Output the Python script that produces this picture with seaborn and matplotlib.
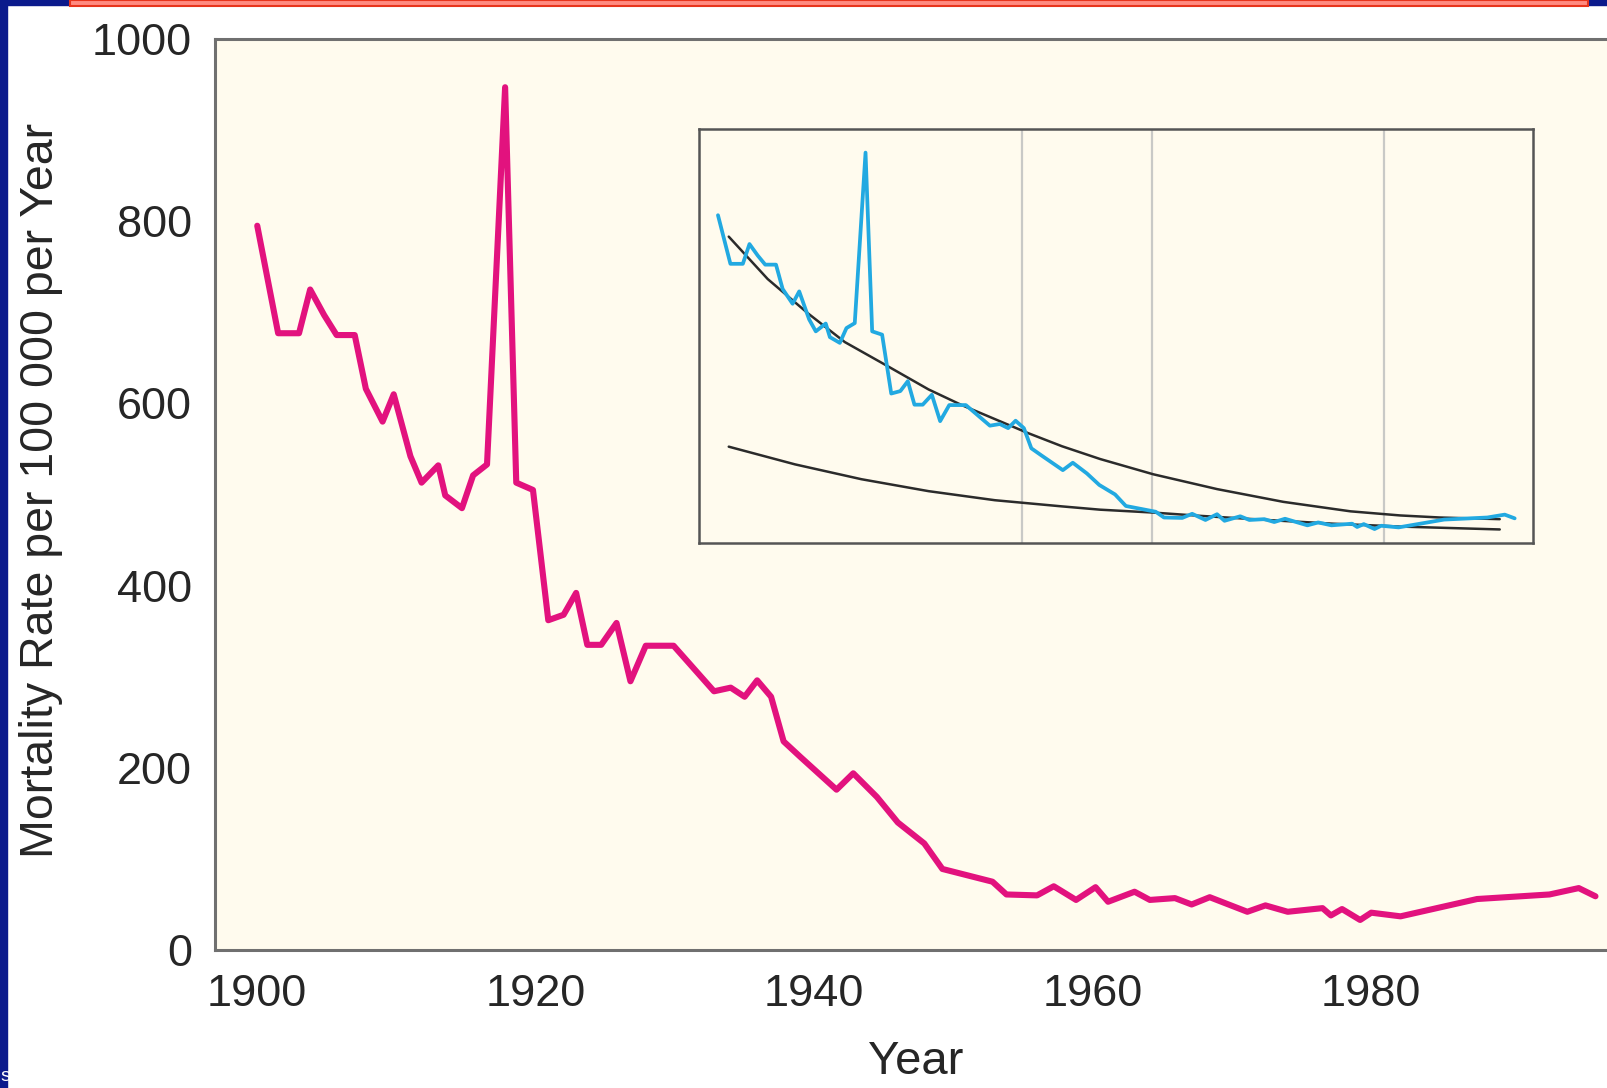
import matplotlib
matplotlib.use("Agg")
import matplotlib.pyplot as plt
import seaborn as sns
from matplotlib.patches import Rectangle

# Mortality rate per 100 000 per year
years = [1900.0, 1901.5, 1903.0, 1903.8, 1904.8, 1905.7, 1907.0, 1907.8, 1909.0, 1909.8,
         1911.0, 1911.8, 1913.0, 1913.5, 1914.7, 1915.5, 1916.5, 1917.8, 1918.6, 1919.8,
         1920.9, 1922.0, 1922.9, 1923.7, 1924.7, 1925.8, 1926.8, 1927.9, 1929.9, 1932.8,
         1934.0, 1935.0, 1935.9, 1936.9, 1937.8, 1939.0, 1941.6, 1942.8, 1944.5, 1946.0,
         1947.9, 1949.2, 1952.8, 1953.8, 1956.0, 1957.2, 1958.8, 1960.2, 1961.1, 1963.0,
         1964.1, 1965.9, 1967.1, 1968.4, 1971.1, 1972.4, 1974.0, 1976.5, 1977.1, 1977.9,
         1979.2, 1980.0, 1982.1, 1987.6, 1992.8, 1994.9, 1996.1]
rate = [795, 677, 677, 725, 697, 675, 675, 616, 580, 610,
        542, 513, 532, 499, 485, 521, 533, 947, 513, 505,
        362, 368, 392, 335, 335, 359, 295, 334, 334, 284,
        288, 278, 296, 278, 229, 212, 176, 194, 168, 140,
        117, 89, 75, 61, 60, 70, 55, 69, 53, 64,
        55, 57, 50, 58, 42, 49, 42, 46, 38, 45,
        33, 41, 37, 56, 61, 68, 59]

# inset: two fitted trend curves
upper_years = [1901.3, 1906.0, 1910.9, 1915.3, 1920.6, 1925.4, 1929.4, 1933.4, 1937.4,
               1941.5, 1946.1, 1952.5, 1960.2, 1968.2, 1976.3, 1982.3, 1987.1, 1994.3]
upper_vals = [743, 640, 556, 487, 427, 372, 334, 300, 266,
              234, 203, 166, 130, 99, 76, 66, 61, 57]
lower_years = [1901.3, 1909.3, 1917.3, 1925.4, 1933.4, 1941.5, 1946.1, 1952.5, 1958.2,
               1966.2, 1974.2, 1982.3, 1994.3]
lower_vals = [233, 190, 154, 125, 103, 88, 80, 73, 65,
              55, 46, 39, 32]
marker_years = [1936.7, 1952.4, 1980.3]

main_xticks = [1900, 1920, 1940, 1960, 1980]
main_yticks = [0, 200, 400, 600, 800, 1000]
inset_xticks = [1901.3 + 9.72 * k for k in range(10)]
inset_yticks = [200, 400, 600, 800]

MAGENTA = "#E2127E"
BLUE = "#22A9E1"
CREAM = "#FFFBEE"
SPINE = "#707070"
NAVY = "#0B1A8C"
TEXT = "#262626"

sns.set_style("white")
plt.rcParams["font.family"] = ["Liberation Sans", "DejaVu Sans"]

fig = plt.figure(figsize=(16.08, 10.88), dpi=100)
fig.patch.set_facecolor("white")

# slide decorations
W, H = 1608, 1088
fig.patches.append(Rectangle((0, 0), 7 / W, 1, transform=fig.transFigure,
                             color=NAVY, zorder=0))
fig.patches.append(Rectangle((0, 1 - 5 / H), 70 / W, 5 / H, transform=fig.transFigure,
                             color=NAVY, zorder=0))
fig.patches.append(Rectangle((1588 / W, 1 - 5 / H), 20 / W, 5 / H,
                             transform=fig.transFigure, color=NAVY, zorder=0))
fig.patches.append(Rectangle((70 / W, 1 - 6 / H), 1518 / W, 6 / H,
                             transform=fig.transFigure, facecolor="#FF8A80",
                             edgecolor="#E8341C", lw=1.5, zorder=1))
fig.text(0.0, 0.006, "s", color="white", fontsize=14, ha="left", va="baseline")

# main chart
ax = fig.add_axes([0.134, 0.1268, 0.866, 0.8374])
ax.set_facecolor(CREAM)
sns.lineplot(x=years, y=rate, ax=ax, color=MAGENTA, linewidth=4.4)
ax.set_xlim(1897.0, 1997.0)
ax.set_ylim(0, 1000)
ax.set_xticks(main_xticks)
ax.set_yticks(main_yticks)
ax.tick_params(direction="out", length=11, width=1.5, color="#555555",
               labelsize=32.5, labelcolor=TEXT, pad=6)
for side in ["left", "bottom", "top"]:
    ax.spines[side].set_color(SPINE)
    ax.spines[side].set_linewidth(2.2)
ax.spines["right"].set_visible(False)
ax.set_xlabel("")
ax.set_ylabel("")

fig.text(41 / W, 1 - 490 / H, "Mortality Rate per 100 000 per Year", rotation=90,
         ha="center", va="center", fontsize=33.5, color=TEXT)
fig.text(916 / W, 4 / H, "Year", ha="center", va="bottom",
         fontsize=34, color=TEXT)

# inset
axin = fig.add_axes([0.435, 0.5005, 0.5184, 0.3808])
axin.set_facecolor(CREAM)
for yr in marker_years:
    axin.axvline(yr, color="#c9c9c6", linewidth=1.6, zorder=1)
sns.lineplot(x=upper_years, y=upper_vals, ax=axin, color="#2b2b2b", linewidth=1.8)
sns.lineplot(x=lower_years, y=lower_vals, ax=axin, color="#2b2b2b", linewidth=1.8)
sns.lineplot(x=years, y=rate, ax=axin, color=BLUE, linewidth=2.7)
axin.set_xlim(1897.77, 1998.32)
axin.set_ylim(-2, 1004)
axin.set_xticks(inset_xticks)
axin.set_yticks(inset_yticks)
axin.set_xticklabels([])
axin.set_yticklabels([])
axin.tick_params(direction="out", length=9, width=1.5, color="#444444")
for side in axin.spines:
    axin.spines[side].set_color("#555555")
    axin.spines[side].set_linewidth(1.8)
axin.set_xlabel("")
axin.set_ylabel("")

fig.savefig("out.png", dpi=100)
